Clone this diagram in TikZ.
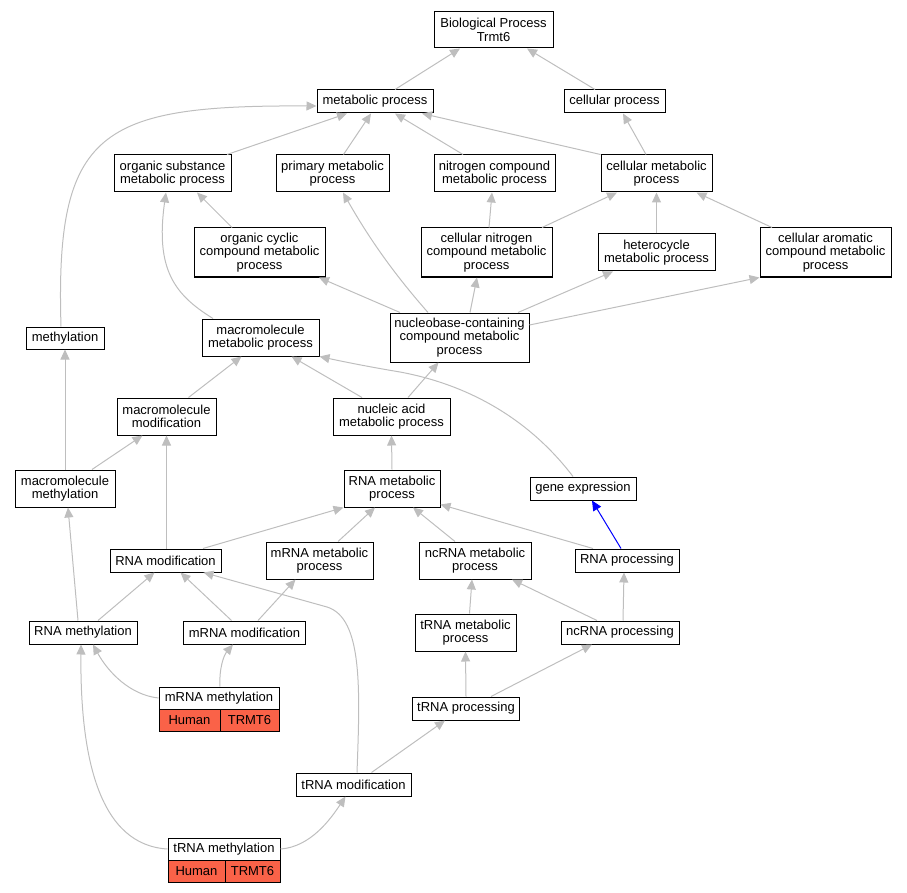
\documentclass[tikz,border=0pt]{standalone}
\usepackage{fontspec}
\setmainfont{Liberation Sans}
\usetikzlibrary{arrows.meta}
\definecolor{edgegray}{RGB}{190,190,190}
\definecolor{cellred}{RGB}{250,98,72}
\begin{document}
\begin{tikzpicture}[x=1pt,y=-1pt,
  box/.style={draw=black, line width=1pt, fill=white, inner sep=0pt, align=center, font=\fontsize{13}{13.3}\selectfont},
  cell/.style={box, fill=cellred},
  edge/.style={draw=edgegray, line width=1pt, -{Triangle[length=10pt,width=9pt]}},
  blueedge/.style={draw=blue, line width=1pt, -{Triangle[length=10pt,width=9pt]}}]
\useasboundingbox (0,0) rectangle (907,893);
% nodes
\node[box, minimum width=119pt, minimum height=36pt] (bp) at (493.5,30) {Biological Process\\Trmt6};
\node[box, minimum width=116pt, minimum height=23pt] (mp) at (375,101.5) {metabolic process};
\node[box, minimum width=101pt, minimum height=23pt] (cp) at (614.5,101.5) {cellular process};
\node[box, minimum width=117pt, minimum height=37pt] (osm) at (172.5,173.5) {organic substance\\metabolic process};
\node[box, minimum width=113pt, minimum height=37pt] (pmp) at (332.5,173.5) {primary metabolic\\process};
\node[box, minimum width=121pt, minimum height=37pt] (ncm) at (494.5,173.5) {nitrogen compound\\metabolic process};
\node[box, minimum width=111pt, minimum height=37pt] (cmp) at (656.5,173.5) {cellular metabolic\\process};
\node[box, minimum width=131pt, minimum height=49pt] (occ) at (259.5,252.5) {organic cyclic\\compound metabolic\\process};
\node[box, minimum width=131pt, minimum height=49pt] (cnc) at (486.5,252.5) {cellular nitrogen\\compound metabolic\\process};
\node[box, minimum width=117pt, minimum height=37pt] (het) at (656.5,252.5) {heterocycle\\metabolic process};
\node[box, minimum width=131pt, minimum height=49pt] (cac) at (825.5,252.5) {cellular aromatic\\compound metabolic\\process};
\node[box, minimum width=78pt, minimum height=22pt] (meth) at (65,338) {methylation};
\node[box, minimum width=117pt, minimum height=37pt] (mmp) at (260.5,337.5) {macromolecule\\metabolic process};
\node[box, minimum width=139pt, minimum height=49pt] (nuc) at (459.5,337.5) {nucleobase-containing\\compound metabolic\\process};
\node[box, minimum width=99pt, minimum height=37pt] (mmod) at (166.5,416.5) {macromolecule\\modification};
\node[box, minimum width=117pt, minimum height=37pt] (nap) at (391.5,416.5) {nucleic acid\\metabolic process};
\node[box, minimum width=100pt, minimum height=37pt] (mmeth) at (65,488.5) {macromolecule\\methylation};
\node[box, minimum width=96pt, minimum height=37pt] (rmp) at (392,488.5) {RNA metabolic\\process};
\node[box, minimum width=106pt, minimum height=23pt] (ge) at (583,488.5) {gene expression};
\node[box, minimum width=111pt, minimum height=23pt] (rmod) at (165.5,560.5) {RNA modification};
\node[box, minimum width=107pt, minimum height=37pt] (mrmp) at (319.5,560.5) {mRNA metabolic\\process};
\node[box, minimum width=112pt, minimum height=37pt] (ncmp) at (475,560.5) {ncRNA metabolic\\process};
\node[box, minimum width=104pt, minimum height=23pt] (rproc) at (627,560.5) {RNA processing};
\node[box, minimum width=108pt, minimum height=23pt] (rmeth) at (83,632.5) {RNA methylation};
\node[box, minimum width=122pt, minimum height=23pt] (mrmod) at (244.5,632.5) {mRNA modification};
\node[box, minimum width=101pt, minimum height=37pt] (tmp) at (465.5,632.5) {tRNA metabolic\\process};
\node[box, minimum width=118pt, minimum height=23pt] (ncproc) at (620,632.5) {ncRNA processing};
\node[box, minimum width=120pt, minimum height=22pt] (mrmeth) at (219,698) {mRNA methylation};
\node[cell, minimum width=61pt, minimum height=22pt] (mrh) at (189.5,720) {Human};
\node[cell, minimum width=59pt, minimum height=22pt] (mrt) at (249.5,720) {TRMT6};
\node[box, minimum width=107pt, minimum height=23pt] (tproc) at (466,708.5) {tRNA processing};
\node[box, minimum width=115pt, minimum height=23pt] (tmod) at (353.5,784.5) {tRNA modification};
\node[box, minimum width=112pt, minimum height=22pt] (tmeth) at (224,849) {tRNA methylation};
\node[cell, minimum width=57pt, minimum height=22pt] (trh) at (196.5,871) {Human};
\node[cell, minimum width=55pt, minimum height=22pt] (trt) at (252.5,871) {TRMT6};
% edges
\draw[edge] ([xshift=20pt]mp.north) -- ([xshift=-33.5pt]bp.south);
\draw[edge] ([xshift=-19.5pt]cp.north) -- ([xshift=33.5pt]bp.south);
\draw[edge] ([xshift=54.5pt]osm.north) -- ([xshift=-28pt]mp.south);
\draw[edge] ([xshift=11pt]pmp.north) -- ([xshift=-4pt]mp.south);
\draw[edge] ([xshift=-31.5pt]ncm.north) -- ([xshift=20pt]mp.south);
\draw[edge] (cmp.north west) -- ([xshift=47pt]mp.south);
\draw[edge] ([xshift=-4pt]meth.north) .. controls (55,130) and (100,105) .. ([yshift=-4.5pt]mp.west);
\draw[edge] ([xshift=-10.5pt]cmp.north) -- ([xshift=8.5pt]cp.south);
\draw[edge] ([xshift=-27.5pt]occ.north) -- ([xshift=24.5pt]osm.south);
\draw[edge] ([xshift=-47.5pt]mmp.north) .. controls (175,295) and (155,270) .. ([xshift=-6.5pt]osm.south);
\draw[edge] ([xshift=-59.5pt]nuc.north) -- ([xshift=59.5pt]occ.south);
\draw[edge] ([xshift=-31.5pt]nuc.north) .. controls (395,275) and (370,240) .. ([xshift=10.5pt]pmp.south);
\draw[edge] ([xshift=10.5pt]nuc.north) -- ([xshift=-9.5pt]cnc.south);
\draw[edge] ([xshift=58.5pt]nuc.north) -- ([xshift=-43.5pt]het.south);
\draw[edge] ([yshift=12.5pt]nuc.east) -- (cac.south west);
\draw[edge] ([xshift=55.5pt]cnc.north) -- ([xshift=-39.5pt]cmp.south);
\draw[edge] ([xshift=2.5pt]cnc.north) -- ([xshift=-2.5pt]ncm.south);
\draw[edge] (het.north) -- (cmp.south);
\draw[edge] ([xshift=-53.5pt]cac.north) -- ([xshift=40pt]cmp.south);
\draw[edge] (mmeth.north) -- (meth.south);
\draw[edge] ([xshift=27pt]mmeth.north) -- ([xshift=-24pt]mmod.south);
\draw[edge] ([xshift=22pt]mmod.north) -- ([xshift=-19pt]mmp.south);
\draw[edge] ([xshift=-29.5pt]nap.north) -- ([xshift=31pt]mmp.south);
\draw[edge] ([xshift=16.5pt]nap.north) -- ([xshift=-21pt]nuc.south);
\draw[edge] ([xshift=-10pt]ge.north) .. controls (530,420) and (470,385) .. (400,372) .. controls (370,367) and (345,362) .. (mmp.south east);
\draw[edge] (rmp.north) -- (nap.south);
\draw[blueedge] ([xshift=-6pt]rproc.north) -- ([xshift=9pt]ge.south);
\draw[edge] ([xshift=-5pt]rmeth.north) -- ([xshift=3pt]mmeth.south);
\draw[edge] ([xshift=1pt]rmod.north) -- (mmod.south);
\draw[edge] ([xshift=37.5pt]rmod.north) -- (rmp.south west);
\draw[edge] ([xshift=18.5pt]mrmp.north) -- ([xshift=-17pt]rmp.south);
\draw[edge] ([xshift=-20pt]ncmp.north) -- ([xshift=21pt]rmp.south);
\draw[edge] ([xshift=-34pt]rproc.north) -- ([yshift=3pt]rmp.south east);
\draw[edge] ([xshift=15pt]rmeth.north) -- ([xshift=-11pt]rmod.south);
\draw[edge] ([xshift=-13pt]mrmod.north) -- ([xshift=15pt]rmod.south);
\draw[edge] ([xshift=13.5pt]mrmod.north) -- ([xshift=-24pt]mrmp.south);
\draw[edge] ([xshift=3.5pt]tmod.north) .. controls (360,690) and (363,618) .. (327,607) -- ([xshift=-18pt]rmod.south east);
\draw[edge] ([xshift=-23pt]ncproc.north) -- ([xshift=37pt]ncmp.south);
\draw[edge] ([xshift=3pt]ncproc.north) -- ([xshift=-3pt]rproc.south);
\draw[edge] ([xshift=4pt]tmp.north) -- ([xshift=-3pt]ncmp.south);
\draw[edge] (mrmeth.west) .. controls (130,695) and (108,672) .. ([xshift=10pt]rmeth.south);
\draw[edge] ([xshift=1pt]mrmeth.north) .. controls (219,668) and (224,655) .. ([xshift=-11.5pt]mrmod.south);
\draw[edge] (tproc.north) -- (tmp.south);
\draw[edge] ([xshift=25pt]tproc.north) -- ([xshift=-28pt]ncproc.south);
\draw[edge] ([xshift=18pt]tmod.north) -- ([xshift=-21pt]tproc.south);
\draw[edge] (tmeth.west) .. controls (100,845) and (80,760) .. ([xshift=-2pt]rmeth.south);
\draw[edge] (tmeth.east) .. controls (310,847) and (330,820) .. ([xshift=-8pt]tmod.south);
\end{tikzpicture}
\end{document}
